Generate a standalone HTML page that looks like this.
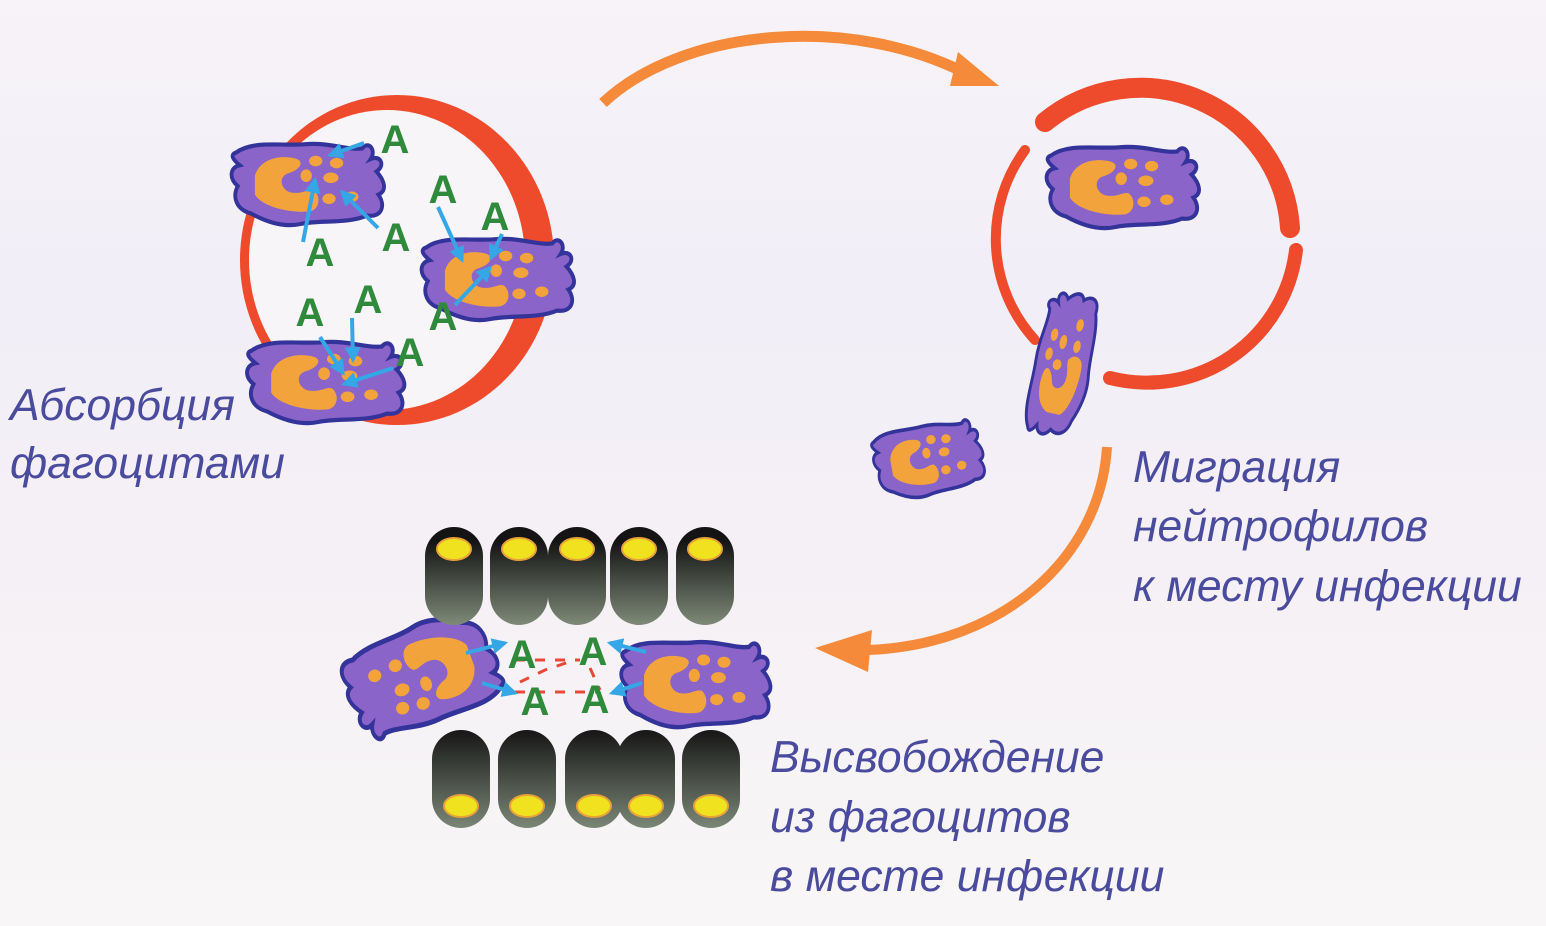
<!DOCTYPE html>
<html><head><meta charset="utf-8"><style>
html,body{margin:0;padding:0;background:#f6f1f6;}
svg{display:block}
.t{font-family:"Liberation Sans",sans-serif;font-style:italic;font-size:44.5px;fill:#4b4b9e}
.a{font-family:"Liberation Sans",sans-serif;font-weight:bold;font-size:40px;fill:#2f8a3c;text-anchor:middle}
</style></head><body>
<svg width="1546" height="926" viewBox="0 0 1546 926" xmlns="http://www.w3.org/2000/svg">
<defs>
<linearGradient id="bg" x1="0" y1="0" x2="0" y2="1">
<stop offset="0" stop-color="#f7f3f8"/><stop offset="0.3" stop-color="#f1eef7"/><stop offset="0.6" stop-color="#f5f0f5"/><stop offset="1" stop-color="#f8f6f6"/></linearGradient>
<linearGradient id="pt" x1="0" y1="0" x2="0" y2="1"><stop offset="0.15" stop-color="#141414"/><stop offset="1" stop-color="#7e8a78"/></linearGradient>
<linearGradient id="pb" x1="0" y1="0" x2="0" y2="1"><stop offset="0" stop-color="#161616"/><stop offset="1" stop-color="#7a8676"/></linearGradient>
<marker id="bh" viewBox="0 0 10 10" refX="8" refY="5" markerWidth="4" markerHeight="4" orient="auto"><path d="M0,0 L10,5 L0,10 z" fill="#35a7e6"/></marker>
<g id="cell">
<path d="M-78,-28 C-60,-40 -30,-34 -5,-36 C20,-38 40,-30 55,-32 C62,-40 70,-30 64,-22 C74,-26 80,-16 70,-10 C78,-2 82,8 72,12 C80,22 76,34 60,32 C40,40 10,36 -10,40 C-30,44 -50,36 -62,30 C-78,26 -82,14 -76,4 C-86,-4 -84,-14 -74,-16 C-82,-22 -84,-26 -78,-28 Z" fill="#8a64c8" stroke="#33339a" stroke-width="4"/>
<path d="M-58,-6 C-52,-24 -28,-26 -14,-22 C-4,-18 -14,-10 -24,-8 C-34,-4 -30,8 -20,10 C-8,12 -2,6 4,8 C12,14 10,26 0,28 C-20,30 -50,24 -58,12 Z" fill="#f3a33c"/>
<ellipse cx="6" cy="-20" rx="7" ry="5" fill="#f3a33c"/><ellipse cx="28" cy="-18" rx="7" ry="5" fill="#f3a33c"/>
<ellipse cx="-4" cy="-6" rx="6" ry="6" fill="#f3a33c"/><ellipse cx="22" cy="-4" rx="8" ry="5" fill="#f3a33c"/>
<ellipse cx="20" cy="16" rx="7" ry="5" fill="#f3a33c"/><ellipse cx="44" cy="14" rx="7" ry="5" fill="#f3a33c"/>
</g>
<g id="pillT"><rect x="0" y="0" width="58" height="98" rx="29" fill="url(#pt)"/><ellipse cx="29" cy="22" rx="17" ry="11" fill="#f0e21e" stroke="#e7a23a" stroke-width="2"/></g>
<g id="pillB"><rect x="0" y="0" width="58" height="98" rx="29" fill="url(#pb)"/><ellipse cx="29" cy="76" rx="17" ry="11" fill="#f0e21e" stroke="#e7a23a" stroke-width="2"/></g>
</defs>
<rect width="1546" height="926" fill="url(#bg)"/>

<!-- left vessel ring -->
<ellipse cx="397" cy="260" rx="157" ry="165" fill="#ee4a2c"/>
<ellipse cx="387" cy="260" rx="138" ry="150" fill="#f8f5f8"/>

<!-- right vessel arcs -->
<g fill="none" stroke="#ee4a2c" stroke-linecap="round">
<path d="M1045,122 A150,150 0 0 1 1290,228" stroke-width="20"/>
<path d="M1025,150 A150,150 0 0 0 1035,340" stroke-width="10"/>
<path d="M1110,378 A150,150 0 0 0 1296,250" stroke-width="14"/>
</g>

<!-- orange arrows -->
<path d="M603,103 C680,30 850,10 975,78" fill="none" stroke="#f58a3a" stroke-width="11"/>
<path d="M958,52 L999,86 L950,86 Z" fill="#f58a3a"/>
<path d="M1107,447 C1100,560 1000,645 868,650" fill="none" stroke="#f58a3a" stroke-width="10"/>
<path d="M872,630 L815,648 L868,672 Z" fill="#f58a3a"/>

<!-- cells -->
<use href="#cell" transform="translate(310,182) scale(0.95,1.05)"/>
<use href="#cell" transform="translate(500,277) scale(0.95,1.05)"/>
<use href="#cell" transform="translate(328,380) scale(0.98,1.05)"/>
<use href="#cell" transform="translate(1125,185) scale(0.95,1.05)"/>
<use href="#cell" transform="translate(1062,362) rotate(-78) scale(0.9,0.72)"/>
<use href="#cell" transform="translate(930,458) rotate(-10) scale(0.68,0.9)"/>
<use href="#cell" transform="translate(420,678) rotate(160) scale(0.95,1.25)"/>
<use href="#cell" transform="translate(698,682) scale(0.93,1.1)"/>

<!-- A letters top -->
<text class="a" x="395" y="153">A</text>
<text class="a" x="443" y="203">A</text>
<text class="a" x="495" y="230">A</text>
<text class="a" x="396" y="251">A</text>
<text class="a" x="320" y="266">A</text>
<text class="a" x="443" y="330">A</text>
<text class="a" x="368" y="313">A</text>
<text class="a" x="310" y="326">A</text>
<text class="a" x="410" y="366">A</text>

<!-- blue arrows top -->
<g stroke="#35a7e6" stroke-width="4" fill="none" marker-end="url(#bh)">
<line x1="364" y1="143" x2="330" y2="155"/>
<line x1="303" y1="242" x2="315" y2="180"/>
<line x1="378" y1="228" x2="342" y2="192"/>
<line x1="438" y1="207" x2="462" y2="260"/>
<line x1="502" y1="234" x2="491" y2="258"/>
<line x1="455" y1="305" x2="490" y2="268"/>
<line x1="320" y1="337" x2="343" y2="373"/>
<line x1="352" y1="318" x2="353" y2="360"/>
<line x1="393" y1="368" x2="344" y2="384"/>
</g>

<!-- pills -->
<use href="#pillT" x="425" y="527"/>
<use href="#pillT" x="490" y="527"/>
<use href="#pillT" x="548" y="527"/>
<use href="#pillT" x="610" y="527"/>
<use href="#pillT" x="676" y="527"/>
<use href="#pillB" x="432" y="730"/>
<use href="#pillB" x="498" y="730"/>
<use href="#pillB" x="565" y="730"/>
<use href="#pillB" x="617" y="730"/>
<use href="#pillB" x="682" y="730"/>

<!-- bottom A + dashed -->
<g stroke="#e84a3a" stroke-width="3" stroke-dasharray="10,10" fill="none">
<path d="M515,660 L560,660 L580,660"/>
<path d="M520,682 L545,670 L575,660"/>
<path d="M590,668 L600,690"/>
<path d="M515,692 L600,692"/>
</g>
<text class="a" x="522" y="668">A</text>
<text class="a" x="593" y="665">A</text>
<text class="a" x="535" y="715">A</text>
<text class="a" x="595" y="713">A</text>
<g stroke="#35a7e6" stroke-width="4" fill="none" marker-end="url(#bh)">
<line x1="466" y1="653" x2="505" y2="643"/>
<line x1="482" y1="683" x2="515" y2="693"/>
<line x1="646" y1="652" x2="610" y2="643"/>
<line x1="642" y1="683" x2="612" y2="693"/>
</g>

<!-- labels -->
<text class="t" x="10" y="420">Абсорбция</text>
<text class="t" x="10" y="478">фагоцитами</text>
<text class="t" x="1133" y="482">Миграция</text>
<text class="t" x="1133" y="541">нейтрофилов</text>
<text class="t" x="1133" y="601">к месту инфекции</text>
<text class="t" x="770" y="772">Высвобождение</text>
<text class="t" x="770" y="832">из фагоцитов</text>
<text class="t" x="770" y="891">в месте инфекции</text>
</svg>
</body></html>
